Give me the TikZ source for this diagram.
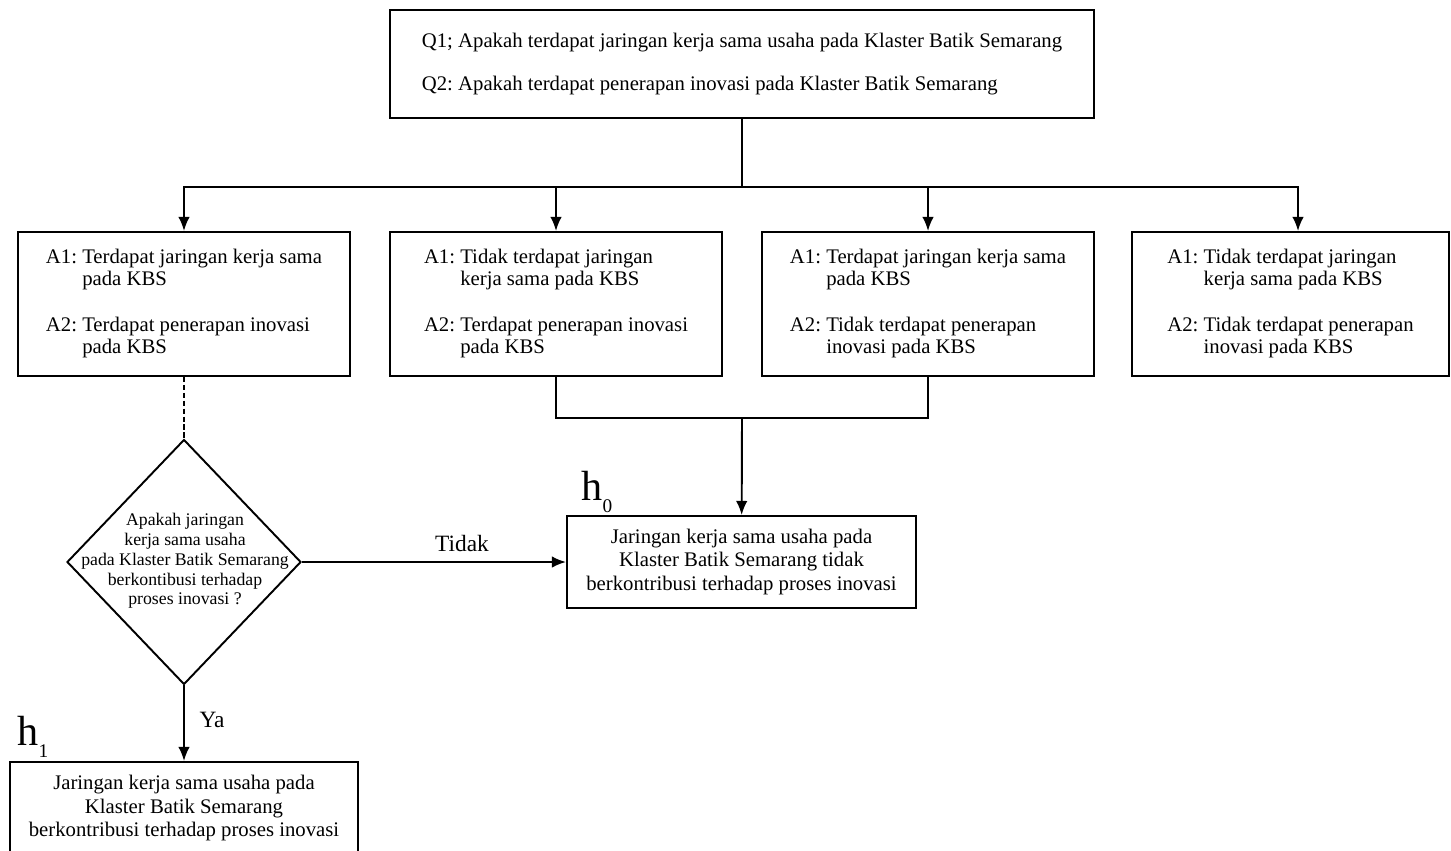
\documentclass[tikz,border=0pt]{standalone}
\usepackage{fontspec}
\setmainfont{Liberation Serif}
\frenchspacing
\usetikzlibrary{shapes.geometric,arrows.meta}

\tikzstyle{re1}=[rectangle,draw,line width=1.1pt,minimum height=2.16cm,minimum width=14.08cm,align=left,font=\fontsize{11.8}{12.5}\selectfont]
\tikzstyle{re2}=[rectangle,draw,line width=1.1pt,minimum height=2.88cm,minimum width=6.64cm,align=left,font=\fontsize{11.8}{12.5}\selectfont]
\tikzstyle{re3}=[rectangle,draw,line width=1.1pt,minimum height=1.84cm,minimum width=6.98cm,align=center,font=\fontsize{11.8}{13.3}\selectfont]
\tikzstyle{re4}=[diamond,draw,line width=1.1pt,minimum width=4.68cm,minimum height=4.9cm,inner sep=0pt]
\tikzstyle{re5}=[align=center,font=\fontsize{10.1}{11.3}\selectfont]
\tikzstyle{re6}=[font=\fontsize{13.3}{14}\selectfont]
\tikzstyle{re7}=[font=\fontsize{24}{24}\selectfont]

\begin{document}
\begin{tikzpicture}[line width=1.1pt,>={Latex[length=8pt,width=6.5pt]}]
\useasboundingbox (0,0) rectangle (29.02,-17);

%Question
\node [re1] at (14.84,-1.28) (q) {Q1; Apakah terdapat jaringan kerja sama usaha pada Klaster Batik Semarang\\[12pt]
Q2: Apakah terdapat penerapan inovasi pada Klaster Batik Semarang};

%Answers
\node [re2] at (3.68,-6.08) (a1) {\begin{tabular}{@{}l@{\ }l@{}}A1: & Terdapat jaringan kerja sama\\ & pada KBS\\[14pt] A2: & Terdapat penerapan inovasi\\ & pada KBS\end{tabular}};
\node [re2] at (11.12,-6.08) (a2) {\begin{tabular}{@{}l@{\ }l@{}}A1: & Tidak terdapat jaringan\\ & kerja sama pada KBS\\[14pt] A2: & Terdapat penerapan inovasi\\ & pada KBS\end{tabular}};
\node [re2] at (18.56,-6.08) (a3) {\begin{tabular}{@{}l@{\ }l@{}}A1: & Terdapat jaringan kerja sama\\ & pada KBS\\[14pt] A2: & Tidak terdapat penerapan\\ & inovasi pada KBS\end{tabular}};
\node [re2,minimum width=6.34cm] at (25.81,-6.08) (a4) {\begin{tabular}{@{}l@{\ }l@{}}A1: & Tidak terdapat jaringan\\ & kerja sama pada KBS\\[14pt] A2: & Tidak terdapat penerapan\\ & inovasi pada KBS\end{tabular}};

%Decision
\node [re4] at (3.68,-11.24) (dq) {};
\node [re5] at (3.70,-11.22) (dqt) {Apakah jaringan\\ kerja sama usaha\\ pada Klaster Batik Semarang\\ berkontibusi terhadap\\ proses inovasi ?};

%Hypotheses
\node [re3] at (14.83,-11.24) (h0) {Jaringan kerja sama usaha pada\\ Klaster Batik Semarang tidak\\ berkontribusi terhadap proses inovasi};
\node [re3,minimum width=6.96cm] at (3.68,-16.16) (h1) {Jaringan kerja sama usaha pada\\ Klaster Batik Semarang\\ berkontribusi terhadap proses inovasi};

\node [re7] at (11.94,-9.84) (lh0) {h\raisebox{-0.3em}{\fontsize{11}{11}\selectfont 0}};
\node [re7] at (0.66,-14.74) (lh1) {h\raisebox{-0.3em}{\fontsize{11}{11}\selectfont 1}};

\coordinate (j) at (14.84,-3.74);
\coordinate (k4) at (25.96,-3.74);
\coordinate (m) at (14.84,-8.36);

\draw (q) -- (j);
\draw [->] (j) -| (a1);
\draw [->] (j) -| (a2);
\draw [->] (j) -| (a3);
\draw [->] (j) -- (k4) -- (k4 |- a4.north);

\draw (a2) |- (m);
\draw (a3) |- (m);
\draw [->] (m) -- (h0);

\draw [dash pattern=on 3pt off 1.5pt] (a1) -- (dq);
\draw [->] (dq) -- (h0);
\draw [->] (dq) -- (h1);

\node [re6] at (9.24,-10.86) (td) {Tidak};
\node [re6] at (4.24,-14.40) (ya) {Ya};

\end{tikzpicture}
\end{document}
